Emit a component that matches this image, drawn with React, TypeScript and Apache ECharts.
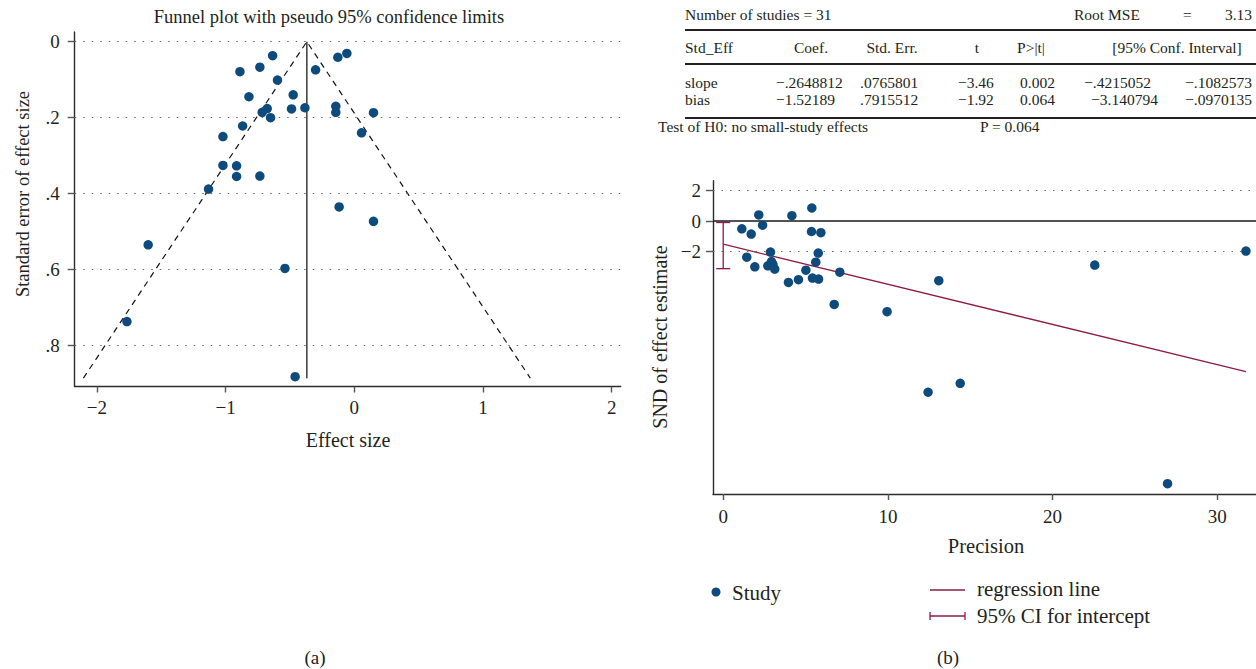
import React, { useEffect, useRef } from "react";
import * as echarts from "echarts";

// ---------- Panel (a): funnel plot ----------
const effectSize = [
  -0.635, -0.128, -0.058, -0.889, -0.734, -0.301, -0.597, -0.819, -0.475, -0.677,
  -0.716, -0.651, -0.488, -0.384, -0.144, -0.144, 0.149, -0.868, -1.021, 0.056,
  -1.021, -0.915, -0.915, -0.734, -1.133, -0.118, 0.149, -1.602, -0.539, -1.767, -0.46,
];
const seEffect = [
  0.037, 0.041, 0.031, 0.079, 0.067, 0.074, 0.101, 0.145, 0.14, 0.176,
  0.186, 0.2, 0.177, 0.174, 0.17, 0.186, 0.187, 0.222, 0.25, 0.24,
  0.326, 0.327, 0.355, 0.354, 0.388, 0.435, 0.473, 0.535, 0.597, 0.737, 0.882,
];
const pooledEffect = -0.369;
const funnelSeMax = 0.886;
const xTicksA = [-2, -1, 0, 1, 2];
const yTicksA = [0, 0.2, 0.4, 0.6, 0.8];

// ---------- Panel (b): Egger regression ----------
const precision = [
  1.13, 1.7, 2.16, 2.39, 4.17, 5.38, 5.36, 5.93, 1.43, 1.92,
  2.87, 2.71, 2.93, 3.02, 3.13, 5.77, 5.62, 5.02, 3.96, 4.57,
  5.42, 5.79, 7.08, 6.74, 9.95, 13.09, 22.56, 31.74, 12.44, 14.39, 26.98,
];
const sndEstimate = [
  -0.51, -0.86, 0.4, -0.27, 0.35, 0.86, -0.69, -0.77, -2.38, -3.02,
  -2.05, -2.95, -2.67, -2.85, -3.17, -2.11, -2.71, -3.24, -4.05, -3.87,
  -3.76, -3.83, -3.37, -5.5, -5.98, -3.93, -2.9, -1.98, -11.29, -10.7, -17.32,
];
const slope = -0.2648812;
const bias = -1.52189;
const biasCI = [-3.140794, -0.0970135];
const xTicksB = [0, 10, 20, 30];
const yTicksB = [-2, 0, 2];
const dottedB = [-2, 2];

// ---------- Table ----------
const tableHeader = ["Std_Eff", "Coef.", "Std. Err.", "t", "P>|t|", "[95% Conf. Interval]"];
const rowSlope = ["slope", "\u2212.2648812", ".0765801", "\u22123.46", "0.002", "\u2212.4215052", "\u2212.1082573"];
const rowBias = ["bias", "\u22121.52189", ".7915512", "\u22121.92", "0.064", "\u22123.140794", "\u2212.0970135"];

const NAVY = "#0e4a7b";
const MAROON = "#8e1c3e";
const INK = "#231f20";
const FONT = '"Liberation Serif", "DejaVu Serif", serif';
const TF = 15.5;

const minus = (v: number) => String(v).replace("-", "\u2212");

function txt(text: string, x: number, y: number, size: number, align = "left", extra: any = {}) {
  return {
    type: "text",
    x,
    y,
    silent: true,
    ...extra,
    style: {
      text,
      fill: INK,
      fontSize: size,
      fontFamily: FONT,
      textAlign: align,
      textVerticalAlign: "middle",
      align,
      verticalAlign: "middle",
    },
  };
}

function hline(x1: number, x2: number, y: number, w: number) {
  return {
    type: "line",
    silent: true,
    shape: { x1, y1: y, x2, y2: y },
    style: { stroke: INK, lineWidth: w },
  };
}

export default function App() {
  const ref = useRef<HTMLDivElement>(null);

  useEffect(() => {
    if (!ref.current) return;
    const chart = echarts.init(ref.current, undefined, { renderer: "svg" });

    const axisLineStyle = { color: "#2b2b2b", width: 1.4 };
    const tickStyle = { color: "#555", width: 1.4 };
    const labelBase = { color: INK, fontFamily: FONT, fontSize: 19 };

    const funnelLeft = [
      [pooledEffect - 1.96 * funnelSeMax, funnelSeMax],
      [pooledEffect, 0],
      [pooledEffect + 1.96 * funnelSeMax, funnelSeMax],
    ];
    const maxPrec = Math.max(...precision);

    const colX = [685, 776, 860, 958, 1020];
    const ciRight = [1151, 1252];

    const graphic: any[] = [
      txt("Funnel plot with pseudo 95% confidence limits", 329, 17, 18.5, "center"),
      txt("Standard error of effect size", 23, 194, 18.5, "center", { rotation: Math.PI / 2 }),
      txt("Effect size", 348, 440, 20, "center"),
      txt("(a)", 315, 657, 19, "center"),
      txt("(b)", 948, 657, 19, "center"),
      txt("SND of effect estimate", 660, 337, 20, "center", { rotation: Math.PI / 2 }),
      txt("Precision", 986, 546, 20.5, "center"),
      // table
      txt("Number of studies = 31", 685, 14, TF),
      txt("Root MSE", 1074, 14, TF),
      txt("=", 1183, 14, TF),
      txt("3.13", 1252, 14, TF, "right"),
      hline(685, 1256, 30, 2),
      txt(tableHeader[0], 685, 47, TF),
      txt(tableHeader[1], 811, 47, TF, "center"),
      txt(tableHeader[2], 892, 47, TF, "center"),
      txt(tableHeader[3], 977, 47, TF, "center"),
      txt(tableHeader[4], 1031, 47, TF, "center"),
      txt(tableHeader[5], 1177, 47, TF, "center"),
      hline(685, 1256, 64, 2),
      hline(685, 1256, 118, 2),
      txt("Test of H0: no small-study effects", 658, 126, TF),
      txt("P = 0.064", 980, 126, TF),
      // legend
      { type: "circle", silent: true, shape: { cx: 716, cy: 592, r: 4.5 }, style: { fill: NAVY } },
      txt("Study", 732, 593, 21),
      { type: "line", silent: true, shape: { x1: 930, y1: 590, x2: 965, y2: 590 }, style: { stroke: MAROON, lineWidth: 1.3 } },
      txt("regression line", 977, 589, 21),
      { type: "line", silent: true, shape: { x1: 930, y1: 616, x2: 965, y2: 616 }, style: { stroke: MAROON, lineWidth: 1.3 } },
      { type: "line", silent: true, shape: { x1: 930, y1: 612, x2: 930, y2: 620 }, style: { stroke: MAROON, lineWidth: 1.3 } },
      { type: "line", silent: true, shape: { x1: 965, y1: 612, x2: 965, y2: 620 }, style: { stroke: MAROON, lineWidth: 1.3 } },
      txt("95% CI for intercept", 977, 616, 21),
    ];
    [rowSlope, rowBias].forEach((row, ri) => {
      const y = 82 + ri * 17;
      graphic.push(txt(row[0], colX[0], y, TF));
      for (let i = 1; i <= 4; i++) graphic.push(txt(row[i], colX[i], y, TF));
      graphic.push(txt(row[5], ciRight[0] + (ri === 1 ? 7 : 0), y, TF, "right"));
      graphic.push(txt(row[6], ciRight[1], y, TF, "right"));
    });

    const option: any = {
      animation: false,
      backgroundColor: "#ffffff",
      textStyle: { fontFamily: FONT },
      graphic,
      grid: [
        { left: 74.7, top: 32, width: 546, height: 354.5 },
        { left: 713, top: 180.7, width: 543.3, height: 313.3 },
      ],
      xAxis: [
        {
          gridIndex: 0,
          type: "value",
          min: -2.173,
          max: 2.07,
          axisLine: { show: true, onZero: false, lineStyle: axisLineStyle },
          axisTick: { show: true, length: 6, lineStyle: tickStyle, customValues: xTicksA },
          axisLabel: { ...labelBase, margin: 11, customValues: xTicksA, formatter: (v: number) => minus(v) },
          splitLine: { show: false },
        },
        {
          gridIndex: 1,
          type: "value",
          min: -0.62,
          max: 32.35,
          axisLine: { show: true, onZero: false, lineStyle: axisLineStyle },
          axisTick: { show: true, length: 6, lineStyle: tickStyle, customValues: xTicksB },
          axisLabel: { ...labelBase, margin: 13, customValues: xTicksB, formatter: (v: number) => minus(v) },
          splitLine: { show: false },
        },
      ],
      yAxis: [
        {
          gridIndex: 0,
          type: "value",
          inverse: true,
          min: -0.0255,
          max: 0.908,
          axisLine: { show: true, onZero: false, lineStyle: axisLineStyle },
          axisTick: { show: true, length: 7, lineStyle: tickStyle, customValues: yTicksA },
          axisLabel: {
            ...labelBase,
            margin: 15,
            customValues: yTicksA,
            formatter: (v: number) => (v === 0 ? "0" : String(v).replace(/^0/, "")),
          },
          splitLine: { show: false },
        },
        {
          gridIndex: 1,
          type: "value",
          min: -18,
          max: 2.66,
          axisLine: { show: true, onZero: false, lineStyle: axisLineStyle },
          axisTick: { show: true, length: 7, lineStyle: tickStyle, customValues: yTicksB },
          axisLabel: { ...labelBase, margin: 12, customValues: yTicksB, formatter: (v: number) => minus(v) },
          splitLine: { show: false },
        },
      ],
      series: [
        {
          type: "line",
          xAxisIndex: 0,
          yAxisIndex: 0,
          data: funnelLeft,
          symbol: "none",
          silent: true,
          lineStyle: { color: "#111", width: 1.2, type: [6, 5] },
          markLine: {
            silent: true,
            symbol: ["none", "none"],
            label: { show: false },
            lineStyle: { color: "#666", width: 1.2, type: [1.5, 7] },
            data: yTicksA.map((v) => ({ yAxis: v })),
          },
          z: 2,
        },
        {
          type: "line",
          xAxisIndex: 0,
          yAxisIndex: 0,
          data: [
            [pooledEffect, 0],
            [pooledEffect, funnelSeMax],
          ],
          symbol: "none",
          silent: true,
          lineStyle: { color: "#3a3a3a", width: 1.5 },
          z: 2,
        },
        {
          type: "scatter",
          name: "Study",
          xAxisIndex: 0,
          yAxisIndex: 0,
          data: effectSize.map((e, i) => [e, seEffect[i]]),
          symbol: "circle",
          symbolSize: 9.5,
          itemStyle: { color: NAVY, opacity: 1 },
          z: 5,
        },
        {
          type: "line",
          name: "regression line",
          xAxisIndex: 1,
          yAxisIndex: 1,
          data: [
            [0, bias],
            [maxPrec, bias + slope * maxPrec],
          ],
          symbol: "none",
          silent: true,
          lineStyle: { color: MAROON, width: 1.3 },
          markLine: {
            silent: true,
            symbol: ["none", "none"],
            label: { show: false },
            lineStyle: { color: "#666", width: 1.2, type: [1.5, 7] },
            data: dottedB.map((v) => ({ yAxis: v })),
          },
          z: 3,
        },
        {
          type: "line",
          xAxisIndex: 1,
          yAxisIndex: 1,
          data: [],
          symbol: "none",
          silent: true,
          markLine: {
            silent: true,
            symbol: ["none", "none"],
            label: { show: false },
            lineStyle: { color: "#1a1a1a", width: 1.5, type: "solid" },
            data: [{ yAxis: 0 }],
          },
          z: 2,
        },
        {
          type: "custom",
          name: "95% CI for intercept",
          xAxisIndex: 1,
          yAxisIndex: 1,
          data: [[0, biasCI[0], biasCI[1]]],
          encode: { x: 0, y: [1, 2] },
          silent: true,
          renderItem: (params: any, api: any) => {
            const lo = api.coord([api.value(0), api.value(1)]);
            const hi = api.coord([api.value(0), api.value(2)]);
            const cap = 7;
            const style = { stroke: MAROON, lineWidth: 1.3 };
            return {
              type: "group",
              children: [
                { type: "line", shape: { x1: lo[0], y1: lo[1], x2: hi[0], y2: hi[1] }, style },
                { type: "line", shape: { x1: lo[0] - cap, y1: lo[1], x2: lo[0] + cap, y2: lo[1] }, style },
                { type: "line", shape: { x1: hi[0] - cap, y1: hi[1], x2: hi[0] + cap, y2: hi[1] }, style },
              ],
            };
          },
          z: 3,
        },
        {
          type: "scatter",
          name: "Study",
          xAxisIndex: 1,
          yAxisIndex: 1,
          data: precision.map((p, i) => [p, sndEstimate[i]]),
          symbol: "circle",
          symbolSize: 9.5,
          itemStyle: { color: NAVY, opacity: 1 },
          z: 5,
        },
      ],
    };

    chart.setOption(option);
    return () => {
      chart.dispose();
    };
  }, []);

  return (
    <div
      ref={ref}
      style={{ position: "fixed", left: 0, top: 0, width: 1256, height: 669, background: "#fff" }}
    />
  );
}
